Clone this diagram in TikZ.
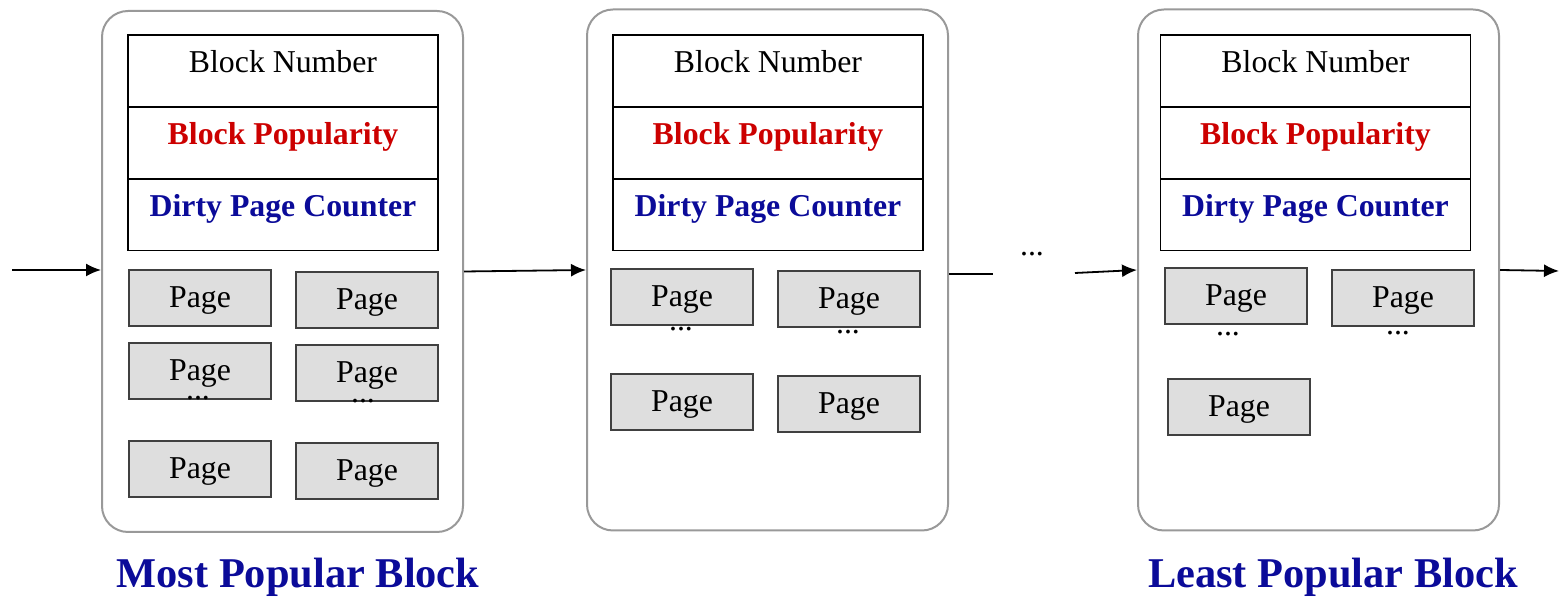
\documentclass[tikz,border=0pt]{standalone}
\usepackage{fontspec}
\setmainfont{Liberation Serif}
\usetikzlibrary{arrows.meta}
\definecolor{popred}{HTML}{CC0000}
\definecolor{popblue}{HTML}{0B0B99}
\definecolor{boxgray}{HTML}{999999}
\definecolor{pagegray}{HTML}{DEDEDE}

\begin{document}
\begin{tikzpicture}[x=0.5pt,y=-0.5pt,
    cell/.style={font=\fontsize{15.9}{18}\selectfont},
    blockbox/.style={draw=boxgray,line width=1pt,rounded corners=13pt,
      minimum width=180.5pt,minimum height=260.5pt,inner sep=0pt},
    field/.style={cell,draw,line width=0.6pt,minimum width=155pt,
      inner sep=0pt,text height=19pt,text depth=17pt},
    page/.style={cell,draw=black!75,line width=0.6pt,fill=pagegray,
      minimum width=71pt,minimum height=28pt,inner sep=0pt,
      text height=12pt,text depth=2pt},
    dots/.style={cell,inner sep=0pt,text height=1.5pt,text depth=0pt},
    link/.style={line width=0.9pt,-{Latex[length=7.5pt,width=6.5pt]}},
    caption/.style={font=\bfseries\fontsize{21.2}{24}\selectfont,
      text=popblue,anchor=base}]
  \useasboundingbox (0,0) rectangle (1559,597);

  % blocks with their header fields
  \foreach \i/\bx/\by/\tx in {1/282.5/271.5/283, 2/767.5/270/768, 3/1318.5/270/1315.5}{
    \node[blockbox] (blk\i) at (\bx,\by) {};
    \node[field] (num\i) at (\tx,71) {Block Number};
    \node[field,text=popred,font=\bfseries\fontsize{15.9}{18}\selectfont] (pop\i) at (\tx,143) {Block Popularity};
    \node[field,text=popblue,font=\bfseries\fontsize{15.9}{18}\selectfont] (dirty\i) at (\tx,214.5) {Dirty Page Counter};
  }

  % pages
  \node[page] (pg1a) at (200,298) {Page};
  \node[page] (pg1b) at (367,300) {Page};
  \node[page] (pg1c) at (200,371) {Page};
  \node[page] (pg1d) at (367,373) {Page};
  \node[page] (pg1e) at (200,469) {Page};
  \node[page] (pg1f) at (367,471) {Page};
  \node[page] (pg2a) at (682,297) {Page};
  \node[page] (pg2b) at (849,299) {Page};
  \node[page] (pg2c) at (682,402) {Page};
  \node[page] (pg2d) at (849,404) {Page};
  \node[page] (pg3a) at (1236,296) {Page};
  \node[page] (pg3b) at (1403,298) {Page};
  \node[page] (pg3c) at (1239,407) {Page};

  \node[dots] (more1a) at (198,398) {...};
  \node[dots] (more1b) at (363,401) {...};
  \node[dots] (more2a) at (681,329) {...};
  \node[dots] (more2b) at (848,332) {...};
  \node[dots] (more3a) at (1228,334) {...};
  \node[dots] (more3b) at (1398,333) {...};

  % links between blocks
  \coordinate (in) at (12,270);
  \coordinate (gapL) at (993,274);
  \coordinate (gapR) at (1075,273);
  \coordinate (out) at (1559,271);
  \draw[link] (in) -- (in -| blk1.west);
  \draw[link] (blk1.east) -- (blk2.west);
  \draw[line width=0.9pt] (blk2.east |- gapL) -- (gapL);
  \node[dots] (skip) at (1032,254) {...};
  \draw[link] (gapR) -- (blk3.west);
  \draw[link] (blk3.east) -- (out);

  \node[caption] (most) at (298,588) {Most Popular Block};
  \node[caption] (least) at (1333,588) {Least Popular Block};
\end{tikzpicture}
\end{document}
